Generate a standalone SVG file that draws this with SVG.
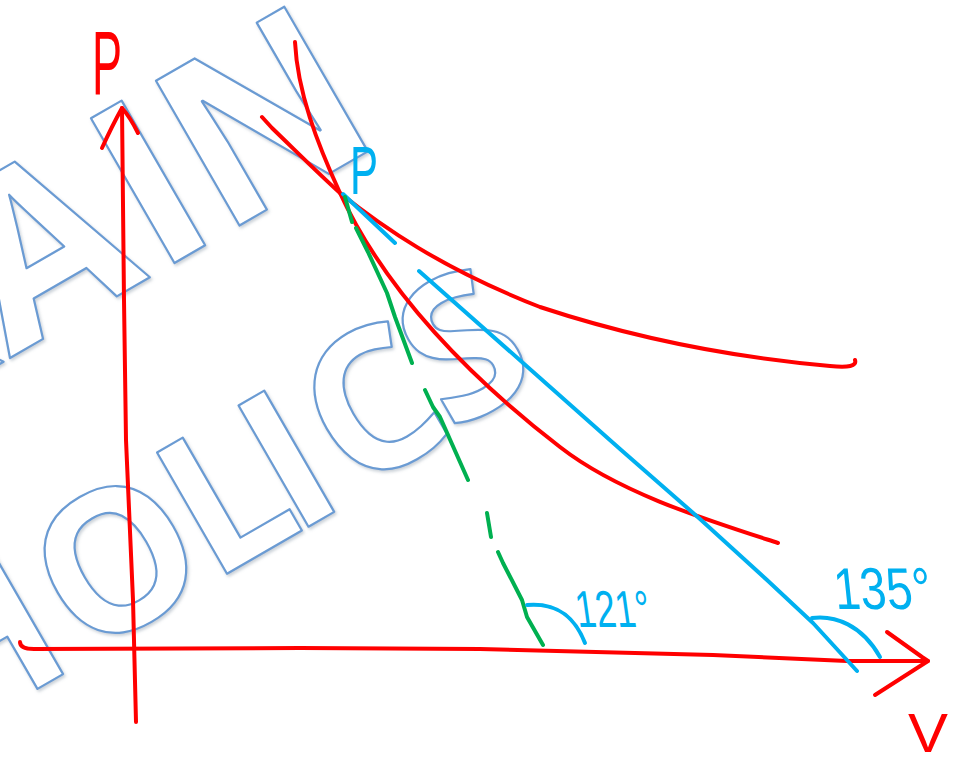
<svg xmlns="http://www.w3.org/2000/svg" width="961" height="764" viewBox="0 0 961 764">
<defs>
<filter id="sh" x="-10%" y="-10%" width="120%" height="120%">
<feDropShadow dx="1.5" dy="2" stdDeviation="1.5" flood-color="#8c9aa8" flood-opacity="0.45"/>
</filter>
</defs>
<style>
.wm{font-family:"Open Sans","Liberation Sans",sans-serif;font-weight:700;fill:#ffffff;stroke:#6b9bd3;stroke-width:2.2;stroke-linejoin:round;}
.r{fill:none;stroke:#ff0000;stroke-width:4;stroke-linecap:round;stroke-linejoin:round;}
.b{fill:none;stroke:#00b0f0;stroke-width:4;stroke-linecap:round;stroke-linejoin:round;}
.g{fill:none;stroke:#00b050;stroke-width:4;stroke-linecap:round;stroke-linejoin:round;}
.lab{font-family:"Liberation Sans",Arial,sans-serif;}
</style>
<rect width="961" height="764" fill="#ffffff"/>
<g id="watermark" filter="url(#sh)">
<g transform="translate(10,358) rotate(-30)"><text class="wm" font-size="234" x="-162 0 169 244" y="0">RAIN</text></g>
<g transform="translate(230,572) rotate(-30)"><text class="wm" font-size="196" x="-328 -171 -21 73 144 260" y="5 2 0 0 -6 -10">HOLICS</text></g>
</g>
<g id="connectors">
<path id="p-axis" class="r" d="M136,722 L133,600 L126,440 L124,300 L122,108"/>
<path class="r" d="M102,148 Q112,126 122,108 Q130,117 138,133"/>
<path id="v-axis" class="r" d="M20,642 Q20,649 34,649 L300,648 L480,649 L713,655 L847,661 L928,661"/>
<path class="r" d="M887,632 L922,657 L928,661 L875,695"/>
<path id="adiabatic" class="r" d="M295,42 C297.5,92 317,143 340,193 C386,293 473,380 560,447 C619,493 707,520 778,543"/>
<path id="isothermal" class="r" d="M262,117 L272,128 C300,155 320,175 340,193 C380,225 440,268 540,307 C640,340 740,358 830,366 Q858,369 855,360"/>
<path id="tangent-blue" class="b" d="M343,194 L395,243 M419,271 L540,378 L620,449 L700,519 L767,580 L813,623 L857,671"/>
<path id="tangent-green" class="g" d="M345,197 L352,222 M356,228 L368,252 L387,293 L395,317 L412,363 M425,390 L433,407 L440,417 L468,480 M487,513 L491,537 M498,552 L503,563 L522,600 L527,617 L543,645"/>
<path id="arc-121" class="b" d="M527,605 C550,603 572,610 585,643"/>
<path id="arc-135" class="b" d="M812,618 C835,615 862,625 880,657"/>
</g>
<g id="label-P-axis"><text class="lab" x="92" y="94" font-size="90" fill="#ff0000" textLength="30" lengthAdjust="spacingAndGlyphs">P</text></g>
<g id="label-V-axis"><text class="lab" x="908" y="752" font-size="56" fill="#ff0000" textLength="40" lengthAdjust="spacingAndGlyphs">V</text></g>
<g id="label-point-P"><text class="lab" x="350" y="194" font-size="68" fill="#00b0f0" textLength="28" lengthAdjust="spacingAndGlyphs">P</text></g>
<g id="label-121" transform="translate(578,627) skewX(8)"><text class="lab" x="0" y="0" font-size="52" fill="#00b0f0" textLength="74" lengthAdjust="spacingAndGlyphs">121°</text></g>
<g id="label-135" transform="translate(836,609) skewX(6)"><text class="lab" x="0" y="0" font-size="59" fill="#00b0f0" textLength="97" lengthAdjust="spacingAndGlyphs">135°</text></g>
</svg>
